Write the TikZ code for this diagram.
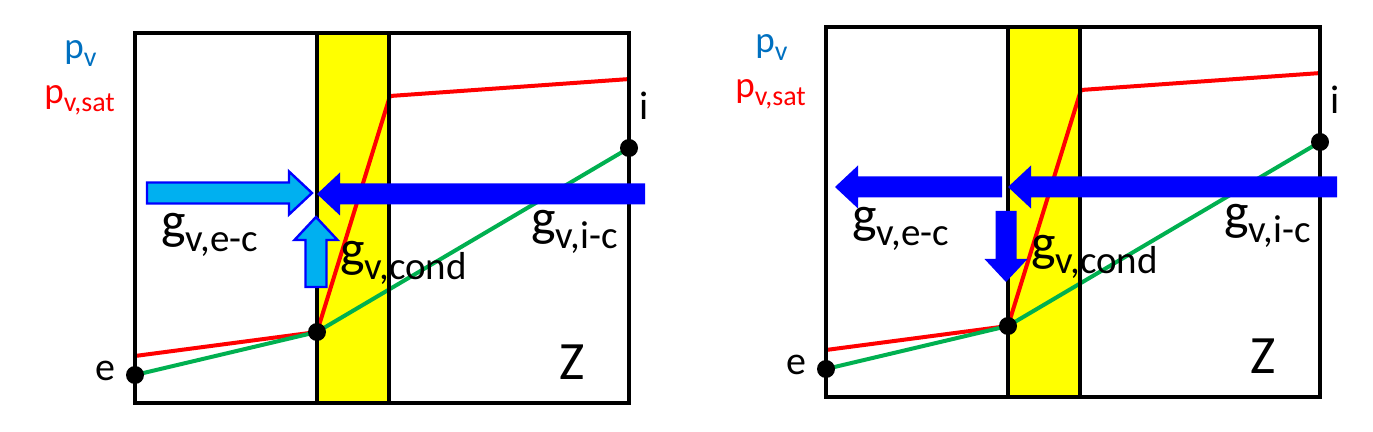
\documentclass[tikz,border=0pt]{standalone}
\usepackage{fontspec}
\setmainfont{Carlito}
\definecolor{pvblue}{RGB}{0,112,192}
\definecolor{satred}{RGB}{255,0,0}
\definecolor{pvgreen}{RGB}{0,176,80}
\definecolor{fluxblue}{RGB}{0,0,255}
\definecolor{fluxcyan}{RGB}{0,176,240}
\definecolor{layer}{RGB}{255,255,0}
% subscripts as the slide sets them
\newcommand{\gsym}[1]{g\raisebox{-6.5pt}{\fontsize{19.5}{20}\selectfont #1}}
\newcommand{\psym}[1]{p\raisebox{-4pt}{\fontsize{14}{15}\selectfont #1}}
% block arrow: style, tail, rotation, length
\newcommand{\flux}[4]{%
  \draw[#1,shift={(#2)},rotate=#3] (0,-10.5) -- ({#4-23},-10.5) -- ({#4-23},-21.5)
    -- (#4,0) -- ({#4-23},21.5) -- ({#4-23},10.5) -- (0,10.5) -- cycle;}

\begin{document}
\begin{tikzpicture}[x=0.5pt,y=-0.5pt]
    \tikzstyle{wall}=[draw=black,line width=1.8pt]
    \tikzstyle{satline}=[draw=satred,line width=2pt]
    \tikzstyle{pvline}=[draw=pvgreen,line width=2pt]
    \tikzstyle{dot}=[circle,fill=black,minimum size=9pt,inner sep=0pt]
    \tikzstyle{darkflux}=[fill=fluxblue,draw=none]
    \tikzstyle{lightflux}=[fill=fluxcyan,draw=fluxblue,line width=1.2pt]
    \tikzstyle{glabel}=[anchor=base west,inner sep=0pt,font=\fontsize{26}{28}\selectfont]
    \tikzstyle{plabel}=[anchor=base west,inner sep=0pt,font=\fontsize{18.5}{20}\selectfont]
    \tikzstyle{side}=[inner sep=0pt,font=\fontsize{20}{22}\selectfont]
    \useasboundingbox (0,0) rectangle (1373,432);

    % both panels share the wall, the layer and the profiles
    \foreach \dx/\dy/\pn in {0/0/L, 691/-6/R}{
        \begin{scope}[shift={(\dx,\dy)}]
            \fill[layer] (317,33) rectangle (389,403);
            \coordinate (\pn-e) at (135,375);
            \coordinate (\pn-m) at (317,332);
            \coordinate (\pn-i) at (629,148);
            \coordinate (\pn-se) at (135,356);
            \coordinate (\pn-sb) at (390,96);
            \coordinate (\pn-si) at (630,79);
            \draw[satline] (\pn-se) -- (\pn-m) -- (\pn-sb) -- (\pn-si);
            \draw[pvline] (\pn-e) -- (\pn-m) -- (\pn-i);
            \draw[wall] (135,33) rectangle (629,403);
            \draw[wall] (317,33) -- (317,403);
            \draw[wall] (389,33) -- (389,403);
            \foreach \p in {e,m,i}
                \node[dot] (\pn-\p-dot) at (\pn-\p) {};
            \node[side] (\pn-elab) at (105,371) {e};
            \node[side] (\pn-ilab) at (644,106) {i};
            \node[inner sep=0pt,font=\fontsize{27}{29}\selectfont] (\pn-zlab) at (572,362) {Z};
            \node[plabel,text=pvblue] (\pn-pv) at (64,59) {\psym{v}};
            \node[plabel,text=satred] (\pn-psat) at (44,104) {\psym{v,sat}};
        \end{scope}
    }

    % left panel: vapour flows into the layer from both sides
    \coordinate (L-ec) at (147,193);
    \coordinate (L-ic) at (645,194);
    \coordinate (L-cd) at (316,287);
    \flux{lightflux}{L-ec}{0}{165}
    \flux{darkflux}{L-ic}{180}{328}
    \flux{lightflux}{L-cd}{90}{70}
    \node[glabel] (L-gec) at (161,239) {\gsym{v,e-c}};
    \node[glabel] (L-gcd) at (340,267) {\gsym{v,cond}};
    \node[glabel] (L-gic) at (531,236) {\gsym{v,i-c}};

    % right panel: vapour passes through the layer
    \begin{scope}[shift={(691,-6)}]
        \coordinate (R-ec) at (311,193);
        \coordinate (R-ic) at (646,193);
        \coordinate (R-cd) at (315,217);
        \flux{darkflux}{R-ec}{180}{167}
        \flux{darkflux}{R-ic}{180}{329}
        \flux{darkflux}{R-cd}{-90}{71}
        \node[glabel] (R-gec) at (161,239) {\gsym{v,e-c}};
        \node[glabel] (R-gcd) at (340,267) {\gsym{v,cond}};
        \node[glabel] (R-gic) at (533,236) {\gsym{v,i-c}};
    \end{scope}
\end{tikzpicture}
\end{document}
